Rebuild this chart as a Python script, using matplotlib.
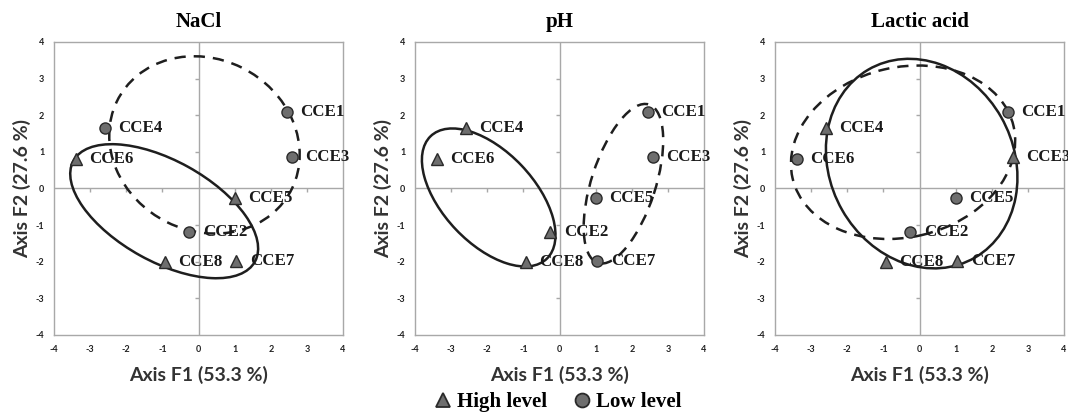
import matplotlib
matplotlib.use('Agg')
import matplotlib.pyplot as plt
from matplotlib.patches import Ellipse
from matplotlib.lines import Line2D

plt.rcParams['axes.unicode_minus'] = False

# ---- data ----
samples = ['CCE1', 'CCE2', 'CCE3', 'CCE4', 'CCE5', 'CCE6', 'CCE7', 'CCE8']
f1 = [2.46, -0.25, 2.60, -2.58, 1.02, -3.40, 1.05, -0.92]
f2 = [2.10, -1.20, 0.85, 1.65, -0.27, 0.81, -1.98, -2.02]

panel_titles = ['NaCl', 'pH', 'Lactic acid']
high_level = [
    ['CCE5', 'CCE6', 'CCE7', 'CCE8'],   # NaCl
    ['CCE2', 'CCE4', 'CCE6', 'CCE8'],   # pH
    ['CCE3', 'CCE4', 'CCE7', 'CCE8'],   # Lactic acid
]

# group ellipses (centre, width, height, angle) per panel
high_ell_center = [(-0.95, -0.62), (-1.96, -0.245), (0.06, 0.68)]
high_ell_width = [5.73, 4.64, 5.92]
high_ell_height = [2.76, 2.52, 5.08]
high_ell_angle = [-28.6, -46.0, -60.0]

low_ell_center = [(0.165, 1.19), (1.77, 0.13), (-0.455, 0.99)]
low_ell_width = [5.40, 4.55, 6.28]
low_ell_height = [4.70, 1.77, 4.64]
low_ell_angle = [-26.0, 71.8, 13.0]

tick_vals = [-4, -3, -2, -1, 0, 1, 2, 3, 4]
x_label = 'Axis F1 (53.3 %)'
y_label = 'Axis F2 (27.6 %)'
legend_labels = ['High level', 'Low level']

# ---- style ----
SERIF = 'Liberation Serif'
SANS = 'Lato'
mfill = '#6e6e6e'
medge = '#2a2a2a'
frame_col = '#a8a8a8'
line_col = '#1e1e1e'

fig = plt.figure(figsize=(10.68, 4.15), dpi=100)
lefts = [54, 415, 775]
W, H = 1068, 415
for i, left in enumerate(lefts):
    ax = fig.add_axes([left / W, (H - 335) / H, 289 / W, 293 / H])
    ax.set_xlim(-4, 4)
    ax.set_ylim(-4, 4)
    for sp in ax.spines.values():
        sp.set_color(frame_col)
        sp.set_linewidth(1.0)
    ax.set_xticks(tick_vals)
    ax.set_yticks(tick_vals)
    ax.tick_params(length=0, pad=7, labelsize=6.5)
    for lab in ax.get_xticklabels() + ax.get_yticklabels():
        lab.set_fontfamily(SANS)
        lab.set_fontweight('bold')
        lab.set_color('#222222')
    ax.axhline(0, color=frame_col, lw=1.0, zorder=1)
    ax.axvline(0, color=frame_col, lw=1.0, zorder=1)
    ax.plot([t for t in tick_vals if t not in (-4, 0, 4)],
            [0] * 6, ls='none', marker=3, ms=3, mew=1.0, color=frame_col, zorder=1)
    ax.plot([0] * 6, [t for t in tick_vals if t not in (-4, 0, 4)],
            ls='none', marker=0, ms=3, mew=1.0, color=frame_col, zorder=1)

    ax.add_patch(Ellipse(high_ell_center[i], high_ell_width[i], high_ell_height[i],
                         angle=high_ell_angle[i], fill=False, ec=line_col, lw=1.8, zorder=2))
    ax.add_patch(Ellipse(low_ell_center[i], low_ell_width[i], low_ell_height[i],
                         angle=low_ell_angle[i], fill=False, ec=line_col, lw=1.8,
                         ls=(0, (4.5, 3.2)), zorder=2))

    for name, x, y in zip(samples, f1, f2):
        is_high = name in high_level[i]
        ax.plot(x, y, ls='none', marker='^' if is_high else 'o',
                ms=8.5 if is_high else 8.0, mfc=mfill, mec=medge, mew=1.0, zorder=3)
        ax.annotate(name, (x, y), xytext=(9.5, 0), textcoords='offset points',
                    ha='left', va='center', fontsize=12.2, fontweight='bold',
                    family=SERIF, color='#1a1a1a', zorder=4, annotation_clip=False)

    ax.set_title(panel_titles[i], fontsize=15, fontweight='bold', family=SERIF, pad=11)
    ax.set_xlabel(x_label, fontsize=14, fontweight='bold', family=SANS,
                  color='#333333', labelpad=9)
    ax.set_ylabel(y_label, fontsize=14, fontweight='bold', family=SANS,
                  color='#333333', labelpad=3)

handles = [
    Line2D([], [], ls='none', marker='^', ms=10, mfc=mfill, mec=medge, mew=1.3),
    Line2D([], [], ls='none', marker='o', ms=10, mfc=mfill, mec=medge, mew=1.3),
]
fig.legend(handles, legend_labels, loc='center', bbox_to_anchor=(557 / W, 1 - 402 / H),
           ncol=2, frameon=False, handletextpad=0.15, columnspacing=1.2,
           prop={'family': SERIF, 'weight': 'bold', 'size': 15}, handlelength=1.0)

fig.savefig('out.png', dpi=100)
